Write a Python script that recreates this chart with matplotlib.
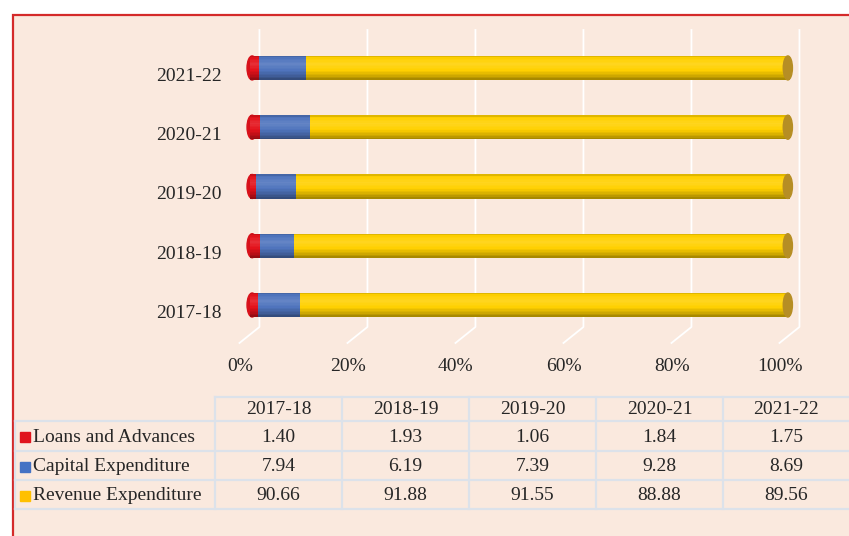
import numpy as np
import matplotlib.pyplot as plt
from matplotlib.colors import to_rgb
from matplotlib.patches import Ellipse, Rectangle

# Data (share of total expenditure, %)
years = ['2017-18', '2018-19', '2019-20', '2020-21', '2021-22']
loans = [1.40, 1.93, 1.06, 1.84, 1.75]
capital = [7.94, 6.19, 7.39, 9.28, 8.69]
revenue = [90.66, 91.88, 91.55, 88.88, 89.56]
series_names = ['Loans and Advances', 'Capital Expenditure', 'Revenue Expenditure']
series_colors = ['#E3121B', '#4F74BD', '#FFD000']
key_colors = ['#E0141C', '#4472C4', '#FFC000']
ticks = [0, 20, 40, 60, 80, 100]

plt.rcParams['font.family'] = ['Liberation Serif', 'DejaVu Serif']
plt.rcParams['font.size'] = 14
txt_color = '#262626'


def shade(color, f):
    c = np.array(to_rgb(color))
    if f >= 1:
        return tuple(c + (1 - c) * (f - 1))
    return tuple(c * f)


W, H = 849, 536
bg = '#FAE9DE'
fig = plt.figure(figsize=(W / 100, H / 100), dpi=100)
fig.patch.set_facecolor('white')
fig.patches.append(Rectangle((13 / W, -0.1), 2, 1 - 15 / H + 0.1, transform=fig.transFigure,
                             facecolor=bg, edgecolor='#D42A2A', lw=1.6, zorder=-1))

# chart area
ax = fig.add_axes([250 / W, 1 - 345 / H, 540 / W, 315 / H])
ax.set_xlim(0, 100)
ax.set_ylim(-0.675, 4.64)
ax.axis('off')

# 3d-ish gridlines: back wall + floor
for v in ticks:
    ax.plot([v + 1.75, v + 1.75, v - 1.95], [4.64, -0.371, -0.641],
            color='white', lw=1.3, zorder=1, clip_on=False)
    ax.text(v - 1.9, -1.046, f'{v}%', ha='center', va='center', color=txt_color)

y = np.arange(len(years))
data = np.array([loans, capital, revenue])
pct = data / data.sum(axis=0) * 100
bar_h = 0.405
nstrip = 16
nodes_t = [0, 0.1, 0.35, 0.6, 0.85, 1]
nodes_f = [0.82, 1.0, 1.12, 1.0, 0.8, 0.62]

# rounded left end
for yi in y:
    ax.add_patch(Ellipse((0.4, yi), 1.9, bar_h, color=shade(series_colors[0], 0.95),
                         zorder=2, clip_on=False))

left = np.zeros(len(years))
for vals, col in zip(pct, series_colors):
    for s in range(nstrip):
        t = (s + 0.5) / nstrip
        f = np.interp(t, nodes_t, nodes_f)
        ax.barh(y + bar_h / 2 - (s + 0.5) * bar_h / nstrip, vals, height=bar_h / nstrip * 1.08,
                left=left, color=shade(col, f), lw=0, zorder=3)
    left = left + vals

# end caps
for yi, end in zip(y, left):
    ax.add_patch(Ellipse((end - 0.4, yi), 1.7, bar_h, color='#B68E24', zorder=4, clip_on=False))

for yi, lab in zip(y, years):
    ax.text(-5.2, yi - 0.14, lab, ha='right', va='center', color=txt_color, clip_on=False)

# data table
tax = fig.add_axes([0, 0, 1, 1])
tax.set_xlim(0, W)
tax.set_ylim(H, 0)
tax.axis('off')

grid_c = '#DCE2EA'
x0, x_head, col_w = 15, 215, 127
row_y = [397, 421, 451, 480, 509]
x_right = W + 2
col_edges = [x_head + i * col_w for i in range(len(years) + 1)]

tax.plot([x_head, x_right], [row_y[0], row_y[0]], color=grid_c, lw=1.6)
for ry in row_y[1:]:
    tax.plot([x0, x_right], [ry, ry], color=grid_c, lw=1.6)
for cx in col_edges[:-1]:
    tax.plot([cx, cx], [row_y[0], row_y[-1]], color=grid_c, lw=1.6)
tax.plot([x0, x0], [row_y[1], row_y[-1]], color=grid_c, lw=1.6)

for j, lab in enumerate(years):
    cx = (col_edges[j] + col_edges[j + 1]) / 2
    tax.text(cx, (row_y[0] + row_y[1]) / 2 + 1, lab, ha='center', va='center', color=txt_color)

for r, (name, vals, kc) in enumerate(zip(series_names, data, key_colors)):
    cy = (row_y[r + 1] + row_y[r + 2]) / 2 + 1
    tax.add_patch(Rectangle((20, cy - 5), 10, 10, color=kc))
    tax.text(33, cy, name, ha='left', va='center', color=txt_color)
    for j, v in enumerate(vals):
        cx = (col_edges[j] + col_edges[j + 1]) / 2
        tax.text(cx, cy, f'{v:.2f}', ha='center', va='center', color=txt_color)

fig.savefig('out.png', dpi=100, facecolor=fig.get_facecolor())
